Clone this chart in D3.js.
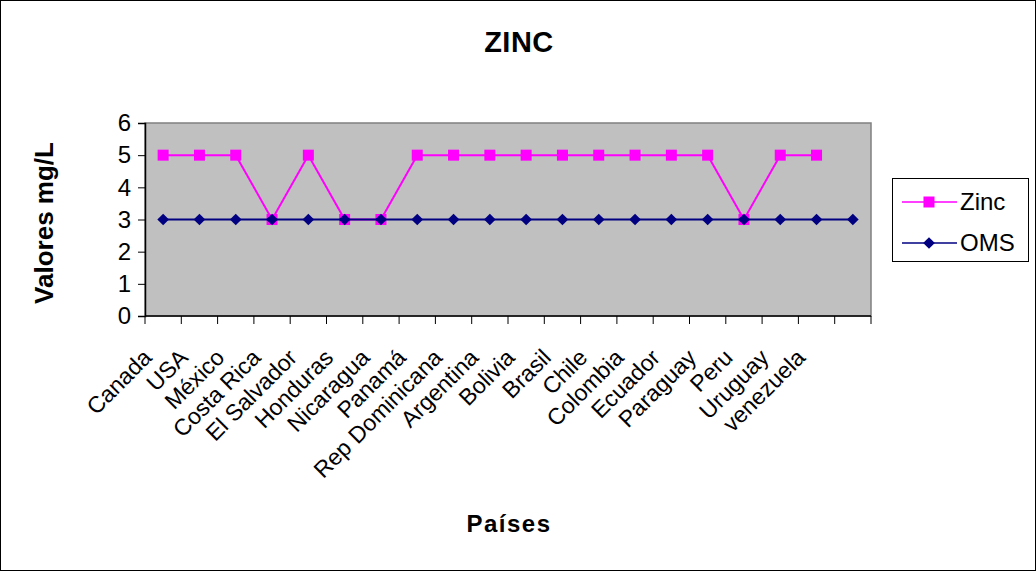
<!DOCTYPE html>
<html>
<head>
<meta charset="utf-8">
<script src="https://cdn.jsdelivr.net/npm/d3@7/dist/d3.min.js"></script>
<style>
  html, body { margin: 0; padding: 0; background: #fff; }
  svg { display: block; font-family: "Liberation Sans", Arial, sans-serif; }
</style>
</head>
<body>
<svg id="chart" width="1036" height="571"></svg>
<script>
// Countries on the category axis (the last two slots carry only the OMS reference)
const categories = ["Canada", "USA", "México", "Costa Rica", "El Salvador", "Honduras",
  "Nicaragua", "Panamá", "Rep Dominicana", "Argentina", "Bolivia", "Brasil", "Chile",
  "Colombia", "Ecuador", "Paraguay", "Peru", "Uruguay", "venezuela", "", ""];
const slotCount = 20;
const zincValues = [5, 5, 5, 3, 5, 3, 3, 5, 5, 5, 5, 5, 5, 5, 5, 5, 3, 5, 5];
const omsValues  = [3, 3, 3, 3, 3, 3, 3, 3, 3, 3, 3, 3, 3, 3, 3, 3, 3, 3, 3, 3];
const yTicks = [0, 1, 2, 3, 4, 5, 6];

const svg = d3.select("#chart");
const W = 1036, H = 571;

// outer frame
svg.append("rect").attr("x", 0.5).attr("y", 0.5).attr("width", W - 1).attr("height", H - 1)
  .attr("fill", "#fff").attr("stroke", "#000").attr("stroke-width", 1);

const plot = { left: 145, right: 871, top: 123, bottom: 316 };

const x = d3.scaleBand().domain(d3.range(slotCount)).range([plot.left, plot.right]).padding(0);
const y = d3.scaleLinear().domain([0, 6]).range([plot.bottom, plot.top]);
const cx = i => x(i) + x.bandwidth() / 2;

// plot background
svg.append("rect")
  .attr("x", plot.left).attr("y", plot.top)
  .attr("width", plot.right - plot.left).attr("height", plot.bottom - plot.top)
  .attr("fill", "#C0C0C0").attr("stroke", "#808080").attr("stroke-width", 1.5);

// y axis
const yAxis = svg.append("g").attr("transform", `translate(${plot.left},0)`)
  .call(d3.axisLeft(y).tickValues(yTicks).tickSize(7).tickPadding(7).tickFormat(d3.format("d")));
yAxis.select(".domain").attr("stroke", "#000").attr("stroke-width", 1.5);
yAxis.selectAll(".tick line").attr("stroke", "#000").attr("stroke-width", 1);
yAxis.selectAll(".tick text").attr("font-size", 24).attr("fill", "#000")
  .attr("font-family", "Liberation Sans, Arial, sans-serif");

// x axis: ticks at slot boundaries
const xBoundaries = d3.range(slotCount + 1).map(i => plot.left + i * x.bandwidth());
const xAxisG = svg.append("g");
xAxisG.append("line")
  .attr("x1", plot.left).attr("x2", plot.right)
  .attr("y1", plot.bottom).attr("y2", plot.bottom)
  .attr("stroke", "#000").attr("stroke-width", 1.5);
xAxisG.selectAll("line.tick").data(xBoundaries).join("line").attr("class", "tick")
  .attr("x1", d => d).attr("x2", d => d)
  .attr("y1", plot.bottom).attr("y2", plot.bottom + 8)
  .attr("stroke", "#000").attr("stroke-width", 1);

// rotated category labels
xAxisG.selectAll("text").data(categories.slice(0, slotCount)).join("text")
  .attr("transform", (d, i) => `translate(${cx(i) - 10},${plot.bottom + 43}) rotate(-45)`)
  .attr("text-anchor", "end")
  .attr("font-size", 23)
  .attr("fill", "#000")
  .text(d => d);

// series lines and markers
const line = d3.line().x((d, i) => cx(i)).y(d => y(d));

svg.append("path").datum(zincValues)
  .attr("d", line).attr("fill", "none").attr("stroke", "#FF00FF").attr("stroke-width", 2);
svg.append("g").selectAll("rect").data(zincValues).join("rect")
  .attr("x", (d, i) => cx(i) - 5.5).attr("y", d => y(d) - 5.5)
  .attr("width", 11).attr("height", 11).attr("fill", "#FF00FF");

svg.append("path").datum(omsValues)
  .attr("d", line).attr("fill", "none").attr("stroke", "#000080").attr("stroke-width", 2);
svg.append("g").selectAll("path").data(omsValues).join("path")
  .attr("transform", (d, i) => `translate(${cx(i)},${y(d)}) rotate(45)`)
  .attr("d", d3.symbol().type(d3.symbolSquare).size(68))
  .attr("fill", "#000080");

// title and axis titles
svg.append("text").attr("x", 519).attr("y", 52).attr("text-anchor", "middle")
  .attr("font-size", 29).attr("font-weight", "bold").attr("letter-spacing", 0.5).text("ZINC");
svg.append("text").attr("transform", `translate(53,223) rotate(-90)`)
  .attr("text-anchor", "middle").attr("font-size", 26).attr("font-weight", "bold")
  .text("Valores mg/L");
svg.append("text").attr("x", 509).attr("y", 532).attr("text-anchor", "middle")
  .attr("font-size", 24).attr("font-weight", "bold").attr("letter-spacing", 1.5).text("Países");

// legend
const legend = svg.append("g");
legend.append("rect").attr("x", 892.5).attr("y", 178.5).attr("width", 136).attr("height", 83)
  .attr("fill", "#fff").attr("stroke", "#000").attr("stroke-width", 1);
const legendItems = [
  { name: "Zinc", color: "#FF00FF", shape: "square", yPos: 202 },
  { name: "OMS", color: "#000080", shape: "diamond", yPos: 243 }
];
legendItems.forEach(it => {
  legend.append("line").attr("x1", 902).attr("x2", 957).attr("y1", it.yPos).attr("y2", it.yPos)
    .attr("stroke", it.color).attr("stroke-width", 1.5);
  if (it.shape === "square") {
    legend.append("rect").attr("x", 923.5).attr("y", it.yPos - 5.5).attr("width", 11).attr("height", 11)
      .attr("fill", it.color);
  } else {
    legend.append("path").attr("transform", `translate(929,${it.yPos}) rotate(45)`)
      .attr("d", d3.symbol().type(d3.symbolSquare).size(68)).attr("fill", it.color);
  }
  legend.append("text").attr("x", 960).attr("y", it.yPos + 8).attr("font-size", 24)
    .attr("fill", "#000").text(it.name);
});
</script>
</body>
</html>
